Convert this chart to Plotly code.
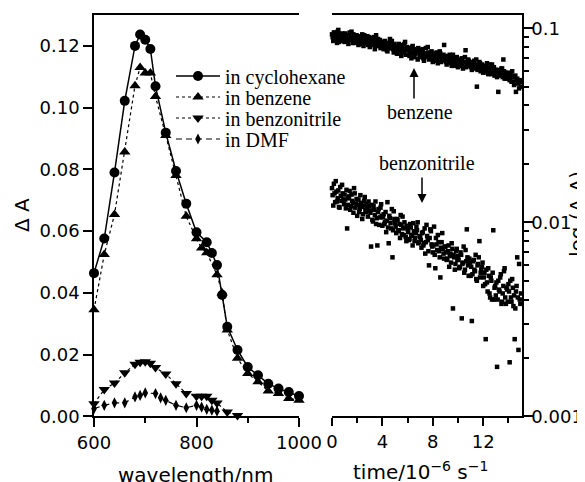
import plotly.graph_objects as go
import math

# ---------------- data: transient absorption spectra ----------------
wl_cyclohexane = [600, 620, 640, 660, 680, 690, 700, 710, 720, 740, 760, 780, 800,
                  820, 830, 840, 850, 860, 880, 900, 920, 940, 960, 980, 1000]
dA_cyclohexane = [0.0464, 0.0576, 0.0790, 0.1022, 0.1200, 0.1237, 0.1220, 0.1190,
                  0.1069, 0.0919, 0.0795, 0.0689, 0.0596, 0.0564, 0.0529, 0.0490,
                  0.0393, 0.0290, 0.0215, 0.0160, 0.0133, 0.0106, 0.0090, 0.0079, 0.0066]

wl_benzene = [600, 620, 640, 660, 680, 690, 700, 710, 720, 740, 760, 780, 800, 810,
              820, 840, 850, 860, 880, 900, 920, 940, 960, 980, 1000]
dA_benzene = [0.0345, 0.0524, 0.0654, 0.0856, 0.1071, 0.1130, 0.1112, 0.1112, 0.1036,
              0.0910, 0.0780, 0.0648, 0.0575, 0.0545, 0.0530, 0.0459, 0.0400, 0.0280,
              0.0188, 0.0139, 0.0112, 0.0082, 0.0074, 0.0058, 0.0052]

wl_benzonitrile = [600, 620, 640, 660, 680, 690, 700, 710, 720, 740, 760, 780, 800,
                   810, 820, 830, 840, 860, 880]
dA_benzonitrile = [0.0041, 0.0087, 0.0108, 0.0141, 0.0169, 0.0175, 0.0177, 0.0172,
                   0.0158, 0.0137, 0.0106, 0.0074, 0.0065, 0.0065, 0.0065, 0.0052,
                   0.0043, 0.0014, 0.0003]

wl_dmf = [600, 620, 640, 660, 680, 690, 700, 720, 730, 740, 760, 780, 800, 810, 820, 830, 840]
dA_dmf = [0.0025, 0.0036, 0.0044, 0.0044, 0.0063, 0.0068, 0.0076, 0.0074, 0.0060,
          0.0052, 0.0036, 0.0028, 0.0036, 0.0030, 0.0023, 0.0020, 0.0017]

# ---------------- data: decay profiles (time in 10^-6 s) ----------------
time_us = [0.0, 0.1, 0.2, 0.3, 0.4, 0.5, 0.6, 0.7, 0.8, 0.9,
           1.0, 1.1, 1.2, 1.3, 1.4, 1.5, 1.6, 1.7, 1.8, 1.9,
           2.0, 2.1, 2.2, 2.3, 2.4, 2.5, 2.6, 2.7, 2.8, 2.9,
           3.0, 3.1, 3.2, 3.3, 3.4, 3.5, 3.6, 3.7, 3.8, 3.9,
           4.0, 4.1, 4.2, 4.3, 4.4, 4.5, 4.6, 4.7, 4.8, 4.9,
           5.0, 5.1, 5.2, 5.3, 5.4, 5.5, 5.6, 5.7, 5.8, 5.9,
           6.0, 6.1, 6.2, 6.3, 6.4, 6.5, 6.6, 6.7, 6.8, 6.9,
           7.0, 7.1, 7.2, 7.3, 7.4, 7.5, 7.6, 7.7, 7.8, 7.9,
           8.0, 8.1, 8.2, 8.3, 8.4, 8.5, 8.6, 8.7, 8.8, 8.9,
           9.0, 9.1, 9.2, 9.3, 9.4, 9.5, 9.6, 9.7, 9.8, 9.9,
           10.0, 10.1, 10.2, 10.3, 10.4, 10.5, 10.6, 10.7, 10.8, 10.9,
           11.0, 11.1, 11.2, 11.3, 11.4, 11.5, 11.6, 11.7, 11.8, 11.9,
           12.0, 12.1, 12.2, 12.3, 12.4, 12.5, 12.6, 12.7, 12.8, 12.9,
           13.0, 13.1, 13.2, 13.3, 13.4, 13.5, 13.6, 13.7, 13.8, 13.9,
           14.0, 14.1, 14.2, 14.3, 14.4, 14.5, 14.6, 14.7, 14.8, 14.9,
           15.0]

decay_benzene = [0.093, 0.086, 0.095, 0.089, 0.084, 0.098, 0.091, 0.087, 0.094, 0.088,
                 0.085, 0.092, 0.090, 0.083, 0.095, 0.087, 0.089, 0.093, 0.084, 0.091,
                 0.088, 0.082, 0.090, 0.085, 0.093, 0.081, 0.087, 0.084, 0.091, 0.086,
                 0.080, 0.089, 0.083, 0.086, 0.078, 0.092, 0.085, 0.081, 0.087, 0.083,
                 0.084, 0.078, 0.086, 0.080, 0.076, 0.083, 0.088, 0.079, 0.082, 0.075,
                 0.081, 0.077, 0.074, 0.083, 0.079, 0.072, 0.080, 0.076, 0.085, 0.078,
                 0.073, 0.079, 0.075, 0.070, 0.081, 0.077, 0.074, 0.078, 0.069, 0.076,
                 0.075, 0.071, 0.078, 0.068, 0.074, 0.072, 0.080, 0.069, 0.073, 0.076,
                 0.067, 0.073, 0.070, 0.075, 0.066, 0.071, 0.074, 0.068, 0.072, 0.082,
                 0.069, 0.065, 0.072, 0.067, 0.070, 0.064, 0.073, 0.066, 0.069, 0.071,
                 0.063, 0.068, 0.066, 0.070, 0.062, 0.067, 0.077, 0.064, 0.069, 0.065,
                 0.066, 0.061, 0.065, 0.068, 0.063, 0.050, 0.064, 0.067, 0.060, 0.065,
                 0.059, 0.064, 0.061, 0.066, 0.058, 0.063, 0.060, 0.065, 0.062, 0.057,
                 0.061, 0.056, 0.047, 0.060, 0.058, 0.062, 0.069, 0.055, 0.059, 0.057,
                 0.058, 0.054, 0.057, 0.060, 0.053, 0.056, 0.047, 0.055, 0.052, 0.054,
                 0.050]

decay_benzonitrile = [0.0150, 0.0122, 0.0141, 0.0163, 0.0128, 0.0146, 0.0119, 0.0137, 0.0156, 0.0131,
                      0.0139, 0.0118, 0.0093, 0.0133, 0.0145, 0.0121, 0.0129, 0.0112, 0.0141, 0.0125,
                      0.0108, 0.0131, 0.0117, 0.0126, 0.0104, 0.0122, 0.0135, 0.0113, 0.0119, 0.0128,
                      0.0115, 0.0075, 0.0103, 0.0121, 0.0109, 0.0098, 0.0076, 0.0117, 0.0106, 0.0124,
                      0.0096, 0.0110, 0.0100, 0.0089, 0.0127, 0.0078, 0.0105, 0.0093, 0.0066, 0.0114,
                      0.0099, 0.0088, 0.0103, 0.0091, 0.0083, 0.0097, 0.0107, 0.0086, 0.0094, 0.0080,
                      0.0092, 0.0081, 0.0098, 0.0085, 0.0076, 0.0090, 0.0083, 0.0095, 0.0100, 0.0079,
                      0.0084, 0.0074, 0.0089, 0.0078, 0.0069, 0.0097, 0.0081, 0.0060, 0.0092, 0.0077,
                      0.0070, 0.0095, 0.0058, 0.0077, 0.0086, 0.0071, 0.0052, 0.0079, 0.0073, 0.0065,
                      0.0075, 0.0064, 0.0071, 0.0059, 0.0069, 0.0078, 0.0036, 0.0066, 0.0061, 0.0073,
                      0.0067, 0.0058, 0.0070, 0.0032, 0.0062, 0.0055, 0.0072, 0.0092, 0.0060, 0.0065,
                      0.0053, 0.0031, 0.0063, 0.0057, 0.0068, 0.0050, 0.0061, 0.0080, 0.0055, 0.0059,
                      0.0047, 0.0055, 0.0025, 0.0049, 0.0058, 0.0043, 0.0052, 0.0040, 0.0091, 0.0046,
                      0.0042, 0.0018, 0.0050, 0.0044, 0.0054, 0.0039, 0.0047, 0.0058, 0.0038, 0.0045,
                      0.0048, 0.0019, 0.0041, 0.0051, 0.0037, 0.0025, 0.0044, 0.0066, 0.0022, 0.0040,
                      0.0043]

# interleaved acquisition points (half steps)
time_us_b = [0.05, 0.15, 0.25, 0.35, 0.45, 0.55, 0.65, 0.75, 0.85, 0.95,
             1.05, 1.15, 1.25, 1.35, 1.45, 1.55, 1.65, 1.75, 1.85, 1.95,
             2.05, 2.15, 2.25, 2.35, 2.45, 2.55, 2.65, 2.75, 2.85, 2.95,
             3.05, 3.15, 3.25, 3.35, 3.45, 3.55, 3.65, 3.75, 3.85, 3.95,
             4.05, 4.15, 4.25, 4.35, 4.45, 4.55, 4.65, 4.75, 4.85, 4.95,
             5.05, 5.15, 5.25, 5.35, 5.45, 5.55, 5.65, 5.75, 5.85, 5.95,
             6.05, 6.15, 6.25, 6.35, 6.45, 6.55, 6.65, 6.75, 6.85, 6.95,
             7.05, 7.15, 7.25, 7.35, 7.45, 7.55, 7.65, 7.75, 7.85, 7.95,
             8.05, 8.15, 8.25, 8.35, 8.45, 8.55, 8.65, 8.75, 8.85, 8.95,
             9.05, 9.15, 9.25, 9.35, 9.45, 9.55, 9.65, 9.75, 9.85, 9.95,
             10.05, 10.15, 10.25, 10.35, 10.45, 10.55, 10.65, 10.75, 10.85, 10.95,
             11.05, 11.15, 11.25, 11.35, 11.45, 11.55, 11.65, 11.75, 11.85, 11.95,
             12.05, 12.15, 12.25, 12.35, 12.45, 12.55, 12.65, 12.75, 12.85, 12.95,
             13.05, 13.15, 13.25, 13.35, 13.45, 13.55, 13.65, 13.75, 13.85, 13.95,
             14.05, 14.15, 14.25, 14.35, 14.45, 14.55, 14.65, 14.75, 14.85, 14.95]

decay_benzene_b = [0.090, 0.095, 0.087, 0.092, 0.096, 0.085, 0.089, 0.093, 0.086, 0.091,
                   0.094, 0.088, 0.086, 0.091, 0.089, 0.096, 0.084, 0.090, 0.087, 0.092,
                   0.085, 0.091, 0.087, 0.083, 0.089, 0.092, 0.084, 0.088, 0.082, 0.090,
                   0.087, 0.082, 0.085, 0.090, 0.081, 0.084, 0.088, 0.086, 0.079, 0.085,
                   0.080, 0.085, 0.082, 0.077, 0.084, 0.079, 0.081, 0.086, 0.078, 0.083,
                   0.079, 0.074, 0.081, 0.077, 0.082, 0.075, 0.078, 0.083, 0.073, 0.080,
                   0.077, 0.072, 0.076, 0.080, 0.074, 0.071, 0.078, 0.075, 0.079, 0.072,
                   0.073, 0.077, 0.070, 0.074, 0.079, 0.071, 0.075, 0.072, 0.070, 0.074,
                   0.071, 0.069, 0.074, 0.068, 0.072, 0.076, 0.067, 0.070, 0.073, 0.069,
                   0.067, 0.071, 0.068, 0.073, 0.066, 0.069, 0.070, 0.064, 0.068, 0.067,
                   0.066, 0.064, 0.069, 0.065, 0.067, 0.071, 0.063, 0.066, 0.068, 0.064,
                   0.063, 0.067, 0.062, 0.065, 0.069, 0.061, 0.064, 0.066, 0.062, 0.063,
                   0.062, 0.060, 0.064, 0.059, 0.062, 0.065, 0.058, 0.061, 0.063, 0.060,
                   0.058, 0.061, 0.057, 0.059, 0.062, 0.056, 0.060, 0.058, 0.055, 0.059,
                   0.055, 0.058, 0.053, 0.056, 0.051, 0.057, 0.054, 0.052, 0.049, 0.053]

decay_benzonitrile_b = [0.0138, 0.0158, 0.0127, 0.0144, 0.0133, 0.0120, 0.0152, 0.0129, 0.0141, 0.0124,
                        0.0131, 0.0147, 0.0123, 0.0136, 0.0116, 0.0139, 0.0126, 0.0150, 0.0119, 0.0132,
                        0.0123, 0.0113, 0.0138, 0.0120, 0.0110, 0.0129, 0.0116, 0.0124, 0.0107, 0.0121,
                        0.0112, 0.0123, 0.0101, 0.0116, 0.0128, 0.0105, 0.0113, 0.0097, 0.0119, 0.0108,
                        0.0106, 0.0098, 0.0113, 0.0102, 0.0094, 0.0108, 0.0099, 0.0117, 0.0091, 0.0104,
                        0.0095, 0.0104, 0.0090, 0.0098, 0.0109, 0.0087, 0.0093, 0.0100, 0.0084, 0.0096,
                        0.0089, 0.0082, 0.0094, 0.0086, 0.0099, 0.0080, 0.0088, 0.0091, 0.0078, 0.0085,
                        0.0081, 0.0088, 0.0076, 0.0093, 0.0079, 0.0085, 0.0071, 0.0083, 0.0090, 0.0075,
                        0.0076, 0.0068, 0.0083, 0.0072, 0.0079, 0.0066, 0.0074, 0.0088, 0.0069, 0.0075,
                        0.0070, 0.0065, 0.0076, 0.0067, 0.0062, 0.0073, 0.0068, 0.0057, 0.0071, 0.0064,
                        0.0064, 0.0059, 0.0068, 0.0061, 0.0075, 0.0057, 0.0063, 0.0066, 0.0053, 0.0062,
                        0.0059, 0.0054, 0.0064, 0.0056, 0.0051, 0.0060, 0.0066, 0.0052, 0.0057, 0.0062,
                        0.0052, 0.0048, 0.0057, 0.0044, 0.0053, 0.0041, 0.0050, 0.0055, 0.0040, 0.0047,
                        0.0049, 0.0040, 0.0045, 0.0052, 0.0038, 0.0043, 0.0056, 0.0041, 0.0046, 0.0039,
                        0.0044, 0.0050, 0.0039, 0.0046, 0.0042, 0.0036, 0.0047, 0.0041, 0.0061, 0.0038]

# ---------------- layout helpers (page pixel -> paper; page body has an 8px margin) ----------------
OFF = 8
W, H = 577, 474
def px(p):
    return (p - OFF) / W
def py(p):
    return 1 - (p - OFF) / H

SANS = "DejaVu Sans"
SERIF = "Liberation Serif"
BLACK = "black"

fig = go.Figure()

fig.add_trace(go.Scatter(
    x=wl_cyclohexane, y=dA_cyclohexane, mode="lines+markers", name="in cyclohexane",
    line=dict(color=BLACK, width=1.5), marker=dict(symbol="circle", size=10, color=BLACK),
    xaxis="x", yaxis="y", legend="legend", cliponaxis=False))
fig.add_trace(go.Scatter(
    x=wl_benzene, y=dA_benzene, mode="lines+markers", name="in benzene",
    line=dict(color=BLACK, width=1.2, dash="dot"), marker=dict(symbol="triangle-up", size=10, color=BLACK),
    xaxis="x", yaxis="y", legend="legend2", cliponaxis=False))
fig.add_trace(go.Scatter(
    x=wl_benzonitrile, y=dA_benzonitrile, mode="lines+markers", name="in benzonitrile",
    line=dict(color=BLACK, width=1.2, dash="3px,3px"), marker=dict(symbol="triangle-down", size=10, color=BLACK),
    xaxis="x", yaxis="y", legend="legend3", cliponaxis=False))
fig.add_trace(go.Scatter(
    x=wl_dmf, y=dA_dmf, mode="lines+markers", name="in DMF",
    line=dict(color=BLACK, width=1.2, dash="6px,4px"), marker=dict(symbol="diamond-tall", size=8, color=BLACK),
    xaxis="x", yaxis="y", legend="legend4", cliponaxis=False))

sq = dict(symbol="square", size=4.5, color=BLACK)
for tt, vv in [(time_us, decay_benzene), (time_us_b, decay_benzene_b),
               (time_us, decay_benzonitrile), (time_us_b, decay_benzonitrile_b)]:
    fig.add_trace(go.Scatter(x=tt, y=vv, mode="markers", showlegend=False, marker=sq,
                             xaxis="x2", yaxis="y2", cliponaxis=False))

ydom = [py(416.4), py(15)]
tickfont = dict(family=SANS, size=18, color=BLACK)
axis_common = dict(showline=True, linecolor=BLACK, linewidth=1.5, ticks="outside",
                   tickcolor=BLACK, tickwidth=1.5, showgrid=False, zeroline=False,
                   tickfont=tickfont, automargin=False)

legend_rows = [76, 97, 118, 139]
legend_common = dict(x=px(171), xanchor="left", yanchor="middle", bgcolor="rgba(0,0,0,0)",
                     borderwidth=0, itemwidth=44, font=dict(family=SERIF, size=20, color=BLACK))

fig.update_layout(
    width=W, height=H, margin=dict(l=0, r=0, t=0, b=0),
    paper_bgcolor="white", plot_bgcolor="white",
    xaxis=dict(domain=[px(94), px(299)], range=[600, 1000], anchor="y",
               tickmode="array", tickvals=[600, 800, 1000], ticklen=9, mirror=True,
               minor=dict(tickvals=[700, 900], ticks="outside", ticklen=5, tickwidth=1.5, tickcolor=BLACK),
               **axis_common),
    yaxis=dict(domain=ydom, range=[0, 0.13], anchor="x",
               tickmode="array", tickvals=[0, 0.02, 0.04, 0.06, 0.08, 0.10, 0.12],
               ticktext=["0.00", "0.02", "0.04", "0.06", "0.08", "0.10", "0.12"], ticklen=9,
               **axis_common),
    xaxis2=dict(domain=[px(332), px(522)], range=[0, 15.08], anchor="y2",
                tickmode="array", tickvals=[0, 4, 8, 12], ticklen=8, mirror=True,
                minor=dict(tickvals=[2, 6, 10, 14], ticks="outside", ticklen=5, tickwidth=1.5, tickcolor=BLACK),
                **axis_common),
    yaxis2=dict(domain=ydom, type="log", range=[-3, math.log10(0.117)], anchor="x2", side="right",
                tickmode="array", tickvals=[0.001, 0.01, 0.1], ticktext=["0.001", "0.01", "0.1"], ticklen=10,
                ticklabelstandoff=-6,
                minor=dict(tickvals=[0.002, 0.003, 0.004, 0.005, 0.006, 0.007, 0.008, 0.009,
                                     0.02, 0.03, 0.04, 0.05, 0.06, 0.07, 0.08, 0.09],
                           ticks="outside", ticklen=5, tickwidth=1.5, tickcolor=BLACK),
                **axis_common),
    legend=dict(y=py(legend_rows[0]), **legend_common),
    legend2=dict(y=py(legend_rows[1]), **legend_common),
    legend3=dict(y=py(legend_rows[2]), **legend_common),
    legend4=dict(y=py(legend_rows[3]), **legend_common),
)

titlefont = dict(family=SANS, size=20, color=BLACK)
serif_font = dict(family=SERIF, size=20, color=BLACK)
ann = [
    dict(text="Δ A", x=px(22), y=py(215), textangle=-90, font=titlefont),
    dict(text="wavelength/nm", x=px(195), y=py(475), font=titlefont),
    dict(text="time/10<sup>−6</sup> s<sup>−1</sup>", x=px(420), y=py(471), font=titlefont),
    dict(text="log (Δ A)", x=px(577), y=py(214), textangle=-90, font=titlefont),
    dict(text="benzene", x=px(420), y=py(112), font=serif_font),
    dict(text="benzonitrile", x=px(427), y=py(163), font=serif_font),
]
for a in ann:
    fig.add_annotation(xref="paper", yref="paper", showarrow=False,
                       xanchor="center", yanchor="middle", **a)

fig.add_annotation(xref="paper", yref="paper", x=px(414), y=py(68), text="",
                   showarrow=True, ax=0, ay=32, arrowhead=2, arrowsize=1.2,
                   arrowwidth=1.5, arrowcolor=BLACK)
fig.add_annotation(xref="paper", yref="paper", x=px(422), y=py(203), text="",
                   showarrow=True, ax=0, ay=-27, arrowhead=2, arrowsize=1.2,
                   arrowwidth=1.5, arrowcolor=BLACK)

fig.write_html("out.html")
